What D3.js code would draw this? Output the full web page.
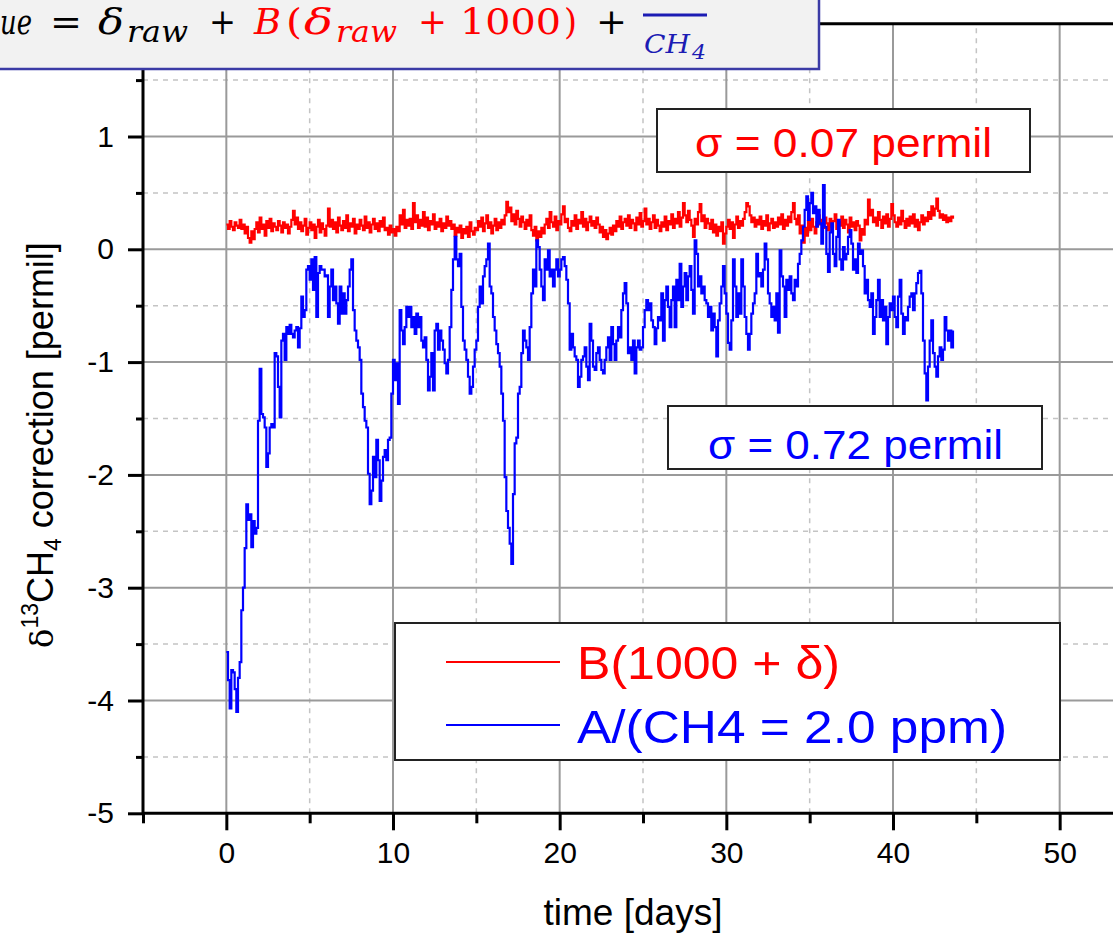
<!DOCTYPE html>
<html><head><meta charset="utf-8">
<script src="https://cdn.jsdelivr.net/npm/d3@7"></script>
<style>body{margin:0;background:#fff}svg{display:block}</style>
</head><body><svg id="c" width="1113" height="933"></svg>
<script>
// ---------- data ----------
const sampleStepDays = 0.1;   // spacing of the samples (days), both series start at day 0
const redValues = [
0.22,0.18,0.25,0.20,0.17,0.24,0.21,0.19,0.26,0.18,
0.22,0.14,0.20,0.10,0.06,0.16,0.09,0.18,0.24,0.15,
0.28,0.18,0.22,0.12,0.25,0.19,0.27,0.16,0.23,0.20,
0.17,0.25,0.21,0.15,0.24,0.19,0.22,0.14,0.20,0.26,
0.34,0.22,0.28,0.18,0.24,0.16,0.21,0.27,0.13,0.19,
0.24,0.17,0.22,0.10,0.20,0.26,0.15,0.23,0.18,0.12,
0.21,0.36,0.20,0.26,0.18,0.24,0.15,0.28,0.21,0.17,
0.25,0.19,0.30,0.16,0.23,0.20,0.27,0.14,0.22,0.18,
0.26,0.21,0.17,0.29,0.19,0.24,0.15,0.22,0.27,0.18,
0.23,0.16,0.25,0.20,0.28,0.17,0.19,0.13,0.21,0.15,
0.18,0.12,0.20,0.16,0.30,0.22,0.35,0.19,0.26,0.21,
0.27,0.18,0.41,0.24,0.30,0.19,0.26,0.21,0.33,0.20,
0.28,0.17,0.25,0.22,0.31,0.18,0.24,0.20,0.27,0.16,
0.23,0.19,0.29,0.21,0.25,0.18,0.22,0.12,0.19,0.15,
0.21,0.10,0.18,0.14,0.20,0.11,0.24,0.16,0.13,0.19,
0.17,0.25,0.20,0.28,0.16,0.23,0.30,0.19,0.24,0.14,
0.21,0.27,0.17,0.24,0.19,0.26,0.22,0.30,0.42,0.33,
0.37,0.25,0.31,0.22,0.34,0.27,0.20,0.29,0.24,0.18,
0.26,0.21,0.30,0.17,0.12,0.20,0.08,0.16,0.11,0.19,
0.14,0.22,0.27,0.19,0.33,0.24,0.20,0.29,0.17,0.25,
0.22,0.31,0.38,0.24,0.27,0.19,0.16,0.25,0.21,0.30,
0.18,0.26,0.23,0.33,0.20,0.27,0.17,0.24,0.29,0.21,
0.25,0.19,0.28,0.22,0.15,0.20,0.11,0.17,0.09,0.14,
0.19,0.13,0.21,0.16,0.25,0.20,0.29,0.18,0.24,0.27,
0.21,0.30,0.19,0.26,0.23,0.17,0.28,0.22,0.32,0.20,
0.25,0.36,0.22,0.27,0.18,0.24,0.30,0.19,0.26,0.21,
0.16,0.24,0.20,0.29,0.17,0.25,0.22,0.31,0.19,0.27,
0.23,0.33,0.20,0.28,0.41,0.30,0.24,0.34,0.26,0.21,
0.11,0.27,0.22,0.33,0.40,0.25,0.30,0.19,0.27,0.23,
0.18,0.26,0.15,0.22,0.12,0.20,0.16,0.24,0.05,0.14,
0.20,0.26,0.18,0.24,0.10,0.22,0.29,0.19,0.25,0.21,
0.27,0.33,0.41,0.38,0.30,0.24,0.28,0.20,0.26,0.22,
0.29,0.18,0.25,0.21,0.30,0.17,0.23,0.27,0.19,0.24,
0.20,0.28,0.22,0.31,0.18,0.26,0.21,0.29,0.24,0.33,
0.41,0.27,0.22,0.30,0.14,0.21,0.06,0.19,0.12,0.25,
0.17,0.27,0.20,0.14,0.24,0.30,0.22,0.26,0.19,0.28,
0.23,0.17,0.27,0.20,0.25,0.31,0.18,0.24,0.21,0.29,
0.19,0.26,0.22,0.15,0.28,0.20,0.24,0.17,0.25,0.21,
0.08,0.18,0.13,0.26,0.22,0.44,0.30,0.35,0.24,0.28,
0.21,0.33,0.26,0.19,0.29,0.23,0.31,0.20,0.27,0.40,
0.30,0.24,0.20,0.28,0.22,0.34,0.25,0.19,0.27,0.21,
0.29,0.23,0.31,0.20,0.26,0.17,0.24,0.30,0.22,0.28,
0.25,0.33,0.27,0.38,0.30,0.36,0.45,0.34,0.28,0.31,
0.26,0.30,0.24,0.28,0.25,0.29,0.27
];
const blueValues = [
-3.57,-3.82,-4.07,-3.73,-3.75,-3.90,-4.10,-3.80,-3.66,-3.20,
-3.00,-2.65,-2.26,-2.40,-2.35,-2.64,-2.41,-2.52,-2.47,-1.52,
-1.06,-1.46,-1.49,-1.58,-1.93,-1.81,-1.58,-1.55,-1.58,-0.92,
-0.95,-1.22,-1.49,-0.81,-0.75,-0.98,-0.69,-0.75,-0.67,-0.75,
-0.78,-0.72,-0.69,-0.87,-0.70,-0.42,-0.60,-0.54,-0.18,-0.15,
-0.27,-0.09,-0.36,-0.07,-0.60,-0.21,-0.15,-0.18,-0.18,-0.24,
-0.23,-0.60,-0.33,-0.18,-0.45,-0.33,-0.48,-0.66,-0.33,-0.57,
-0.39,-0.57,-0.45,-0.33,-0.18,-0.09,-0.54,-0.72,-0.81,-0.87,
-0.98,-1.28,-1.40,-1.52,-1.58,-1.99,-2.26,-2.14,-1.84,-2.02,
-1.69,-1.87,-2.23,-2.05,-1.84,-1.78,-1.87,-1.69,-1.67,-1.28,
-0.98,-1.16,-1.01,-1.37,-0.54,-0.72,-0.84,-0.69,-0.51,-0.60,
-0.51,-0.69,-0.60,-0.75,-0.57,-0.69,-0.60,-0.81,-0.87,-0.78,
-0.98,-1.25,-1.13,-0.92,-1.25,-0.72,-0.66,-0.89,-0.72,-0.81,
-0.89,-1.01,-1.10,-0.98,-0.69,-0.36,-0.09,0.11,-0.09,-0.15,
-0.04,-0.51,-0.81,-0.89,-0.98,-1.13,-1.28,-1.22,-1.04,-0.89,
-0.81,-0.51,-0.33,-0.48,-0.24,-0.15,-0.09,0.05,-0.33,-0.39,
-0.60,-0.72,-0.84,-0.92,-1.04,-1.28,-1.52,-2.02,-2.32,-2.47,
-2.61,-2.79,-2.17,-1.72,-1.67,-1.28,-1.22,-0.92,-0.72,-0.81,
-0.87,-0.98,-0.69,-0.39,-0.18,-0.33,0.08,0.02,-0.18,-0.33,
-0.45,-0.09,-0.18,-0.01,-0.24,-0.18,-0.33,-0.18,-0.09,-0.24,
-0.18,-0.09,-0.07,-0.15,-0.27,-0.48,-0.89,-0.75,-0.87,-0.95,
-0.98,-1.22,-1.13,-0.98,-0.95,-0.87,-1.04,-1.16,-0.66,-0.81,
-1.04,-1.07,-0.92,-0.87,-0.98,-1.07,-1.10,-0.98,-0.87,-0.78,
-0.98,-0.69,-0.84,-0.98,-0.81,-0.69,-0.78,-0.54,-0.39,-0.30,
-0.48,-0.92,-0.87,-0.98,-0.81,-1.10,-0.87,-0.81,-0.89,-0.87,
-0.69,-0.54,-0.45,-0.54,-0.48,-0.63,-0.69,-0.84,-0.70,-0.60,
-0.63,-0.39,-0.81,-0.45,-0.33,-0.51,-0.69,-0.45,-0.33,-0.69,
-0.27,-0.45,-0.13,-0.51,-0.33,-0.21,-0.45,-0.24,-0.15,-0.36,
-0.57,0.08,-0.04,-0.33,-0.24,-0.39,-0.33,-0.45,-0.48,-0.60,
-0.51,-0.72,-0.57,-0.69,-0.95,-0.63,-0.48,-0.33,-0.15,-0.39,
-0.57,-0.83,-0.89,-0.63,-0.09,-0.33,-0.60,-0.39,-0.57,-0.09,
-0.33,-0.60,-0.75,-0.89,-0.75,-0.57,-0.48,-0.39,-0.04,-0.24,
-0.21,-0.33,-0.18,0.05,-0.09,-0.39,-0.48,-0.60,-0.51,-0.63,
-0.39,-0.74,-0.01,-0.24,-0.33,-0.60,-0.27,-0.36,-0.24,-0.39,
-0.45,-0.27,-0.33,-0.13,-0.04,0.08,0.20,0.35,0.47,0.26,
0.41,0.50,0.32,0.38,0.20,0.35,0.23,0.05,0.57,0.20,
-0.04,-0.20,0.15,0.23,-0.04,-0.15,0.11,0.26,-0.09,-0.18,
0.02,-0.09,-0.04,0.11,0.17,0.05,-0.18,-0.09,-0.21,0.05,
-0.04,-0.01,-0.15,-0.39,-0.27,-0.45,-0.51,-0.39,-0.75,-0.60,
-0.45,-0.27,-0.60,-0.45,-0.63,-0.51,-0.84,-0.60,-0.48,-0.54,
-0.42,-0.60,-0.69,-0.42,-0.27,-0.57,-0.75,-0.60,-0.63,-0.51,
-0.42,-0.39,-0.54,-0.39,-0.30,-0.21,-0.19,-0.39,-0.81,-1.10,
-1.34,-1.04,-0.81,-0.63,-0.92,-1.04,-1.13,-0.95,-0.87,-0.98,
-0.89,-0.60,-0.72,-0.81,-0.72,-0.87,-0.72
];
const xMajorTicks = [0, 10, 20, 30, 40, 50];
const xMinorTicks = [-5, 5, 15, 25, 35, 45, 55];
const yMajorTicks = [-5, -4, -3, -2, -1, 0, 1];
const yMinorTicks = [-4.5, -3.5, -2.5, -1.5, -0.5, 0.5, 1.5];
const legendLabels = ["B(1000 + δ)", "A/(CH4 = 2.0 ppm)"];
const sigmaLabels = ["σ = 0.07 permil", "σ = 0.72 permil"];
const seriesColors = ["#ff0000", "#0000ff"];

// ---------- layout ----------
const svg = d3.select("#c");
const x = d3.scaleLinear().domain([-5, 55]).range([143, 1143]);
const y = d3.scaleLinear().domain([-5, 2]).range([813.3, 23.7]);
const X0 = x.range()[0], X1 = x.range()[1], Y0 = y.range()[0], Y1 = y.range()[1];

svg.append("rect").attr("width", 1113).attr("height", 933).attr("fill", "#fff");

// grid
const grid = svg.append("g");
grid.selectAll(".gxm").data(xMinorTicks.filter(v => v > -5)).join("line")
  .attr("x1", d => x(d)).attr("x2", d => x(d)).attr("y1", Y0).attr("y2", Y1)
  .attr("stroke", "#c4c4c4").attr("stroke-width", 1.5).attr("stroke-dasharray", "5,5");
grid.selectAll(".gym").data(yMinorTicks).join("line")
  .attr("x1", X0).attr("x2", X1).attr("y1", d => y(d)).attr("y2", d => y(d))
  .attr("stroke", "#c4c4c4").attr("stroke-width", 1.5).attr("stroke-dasharray", "5,5");
grid.selectAll(".gxM").data(xMajorTicks).join("line")
  .attr("x1", d => x(d)).attr("x2", d => x(d)).attr("y1", Y0).attr("y2", Y1)
  .attr("stroke", "#9a9a9a").attr("stroke-width", 2);
grid.selectAll(".gyM").data(yMajorTicks.filter(v => v > -5)).join("line")
  .attr("x1", X0).attr("x2", X1).attr("y1", d => y(d)).attr("y2", d => y(d))
  .attr("stroke", "#9a9a9a").attr("stroke-width", 2);

// series (dense logger data: drawn as steps)
const line = d3.line().curve(d3.curveStepAfter)
  .x((d, i) => x(i * sampleStepDays)).y(d => y(d));
[redValues, blueValues].forEach((vals, k) => {
  svg.append("path").datum(vals).attr("d", line)
    .attr("fill", "none").attr("stroke", seriesColors[k]).attr("stroke-width", 2.2)
    .attr("stroke-linejoin", "miter");
});

// axes
const font = "'Liberation Sans', Arial, sans-serif";
function styleAxis(g) {
  g.attr("font-size", 30).attr("font-family", font);
  g.select(".domain").remove();
  g.selectAll(".tick line").attr("stroke", "#000").attr("stroke-width", 3);
  g.selectAll(".tick text").attr("fill", "#000").style("font-family", font).style("font-size", "30px");
}
svg.append("g").attr("transform", `translate(0,${Y0})`)
  .call(d3.axisBottom(x).tickValues(xMinorTicks).tickSize(10).tickSizeOuter(0).tickFormat(""))
  .call(styleAxis);
svg.append("g").attr("transform", `translate(0,${Y0})`)
  .call(d3.axisBottom(x).tickValues(xMajorTicks).tickSize(17).tickSizeOuter(0).tickPadding(11).tickFormat(d3.format("d")))
  .call(styleAxis);
svg.append("g").attr("transform", `translate(${X0},0)`)
  .call(d3.axisLeft(y).tickValues(yMinorTicks).tickSize(7).tickSizeOuter(0).tickFormat(""))
  .call(styleAxis);
svg.append("g").attr("transform", `translate(${X0},0)`)
  .call(d3.axisLeft(y).tickValues(yMajorTicks).tickSize(15).tickSizeOuter(0).tickPadding(14).tickFormat(d => String(d)))
  .call(styleAxis);

// frame lines
svg.append("line").attr("x1", X0).attr("x2", X1).attr("y1", Y0).attr("y2", Y0).attr("stroke", "#000").attr("stroke-width", 3);
svg.append("line").attr("x1", X0).attr("x2", X0).attr("y1", Y0 + 1.5).attr("y2", Y1).attr("stroke", "#000").attr("stroke-width", 3);
svg.append("line").attr("x1", X0).attr("x2", X1).attr("y1", Y1).attr("y2", Y1).attr("stroke", "#000").attr("stroke-width", 3);

// axis titles
svg.append("text").attr("x", 633).attr("y", 925).attr("text-anchor", "middle")
  .style("font-family", font).style("font-size", "37px").attr("fill", "#000").text("time [days]");
const yt = svg.append("text").attr("transform", "translate(53,445) rotate(-90)").attr("text-anchor", "middle")
  .style("font-family", font).style("font-size", "36px").attr("fill", "#000");
yt.append("tspan").style("font-family", "'DejaVu Serif', serif").style("font-size", "32px").text("δ");
yt.append("tspan").attr("dy", -15).style("font-size", "23px").text("13");
yt.append("tspan").attr("dy", 15).text("CH");
yt.append("tspan").attr("dy", 8).style("font-size", "23px").text("4");
yt.append("tspan").attr("dy", -8).text(" correction [permil]");

// sigma boxes
const sigmaBoxes = [
  {x0: 657, y0: 109, x1: 1030, y1: 172, tx: 695, tw: 297, base: 157},
  {x0: 668, y0: 406, x1: 1042, y1: 469, tx: 708, tw: 295, base: 459}
];
sigmaBoxes.forEach((b, k) => {
  svg.append("rect").attr("x", b.x0).attr("y", b.y0).attr("width", b.x1 - b.x0).attr("height", b.y1 - b.y0)
    .attr("fill", "#fff").attr("stroke", "#222").attr("stroke-width", 2);
  svg.append("text").attr("x", b.tx).attr("y", b.base)
    .attr("textLength", b.tw).attr("lengthAdjust", "spacingAndGlyphs")
    .style("font-family", font).style("font-size", "41px").attr("fill", seriesColors[k]).text(sigmaLabels[k]);
});

// legend
const lg = svg.append("g");
lg.append("rect").attr("x", 395).attr("y", 623).attr("width", 665).attr("height", 137)
  .attr("fill", "#fff").attr("stroke", "#222").attr("stroke-width", 2);
legendLabels.forEach((lab, k) => {
  const ly = [662, 725][k], tb = [679, 743][k], tw = [263, 430][k];
  lg.append("line").attr("x1", 446).attr("x2", 560).attr("y1", ly).attr("y2", ly)
    .attr("stroke", seriesColors[k]).attr("stroke-width", 2);
  lg.append("text").attr("x", 577).attr("y", tb)
    .attr("textLength", tw).attr("lengthAdjust", "spacingAndGlyphs")
    .style("font-family", font).style("font-size", "47px").attr("fill", seriesColors[k]).text(lab);
});

// formula box (top, partly outside the picture)
const fb = svg.append("g");
fb.append("rect").attr("x", -4).attr("y", -4).attr("width", 823).attr("height", 73)
  .attr("fill", "#f2f2f2").attr("stroke", "#3b3ba6").attr("stroke-width", 2.5);
const serif = "'DejaVu Serif', 'Liberation Serif', serif";
function piece(px, py, w, txt, size, color, italic) {
  fb.append("text").attr("x", px).attr("y", py).attr("fill", color)
    .attr("textLength", w).attr("lengthAdjust", "spacingAndGlyphs")
    .style("font-family", serif).style("font-size", size + "px")
    .style("font-style", italic ? "italic" : "normal").text(txt);
}
const fBase = 34, sBase = 42;
piece(0, fBase, 32, "ue", 36, "#000", true);
piece(50, fBase, 32, "=", 36, "#000", false);
piece(98, fBase, 26, "δ", 36, "#000", true);
piece(127, sBase, 61, "raw", 29, "#000", true);
piece(209, fBase, 27, "+", 36, "#000", false);
piece(254, fBase, 27, "B", 36, "#ff0000", true);
piece(286, fBase, 16, "(", 36, "#ff0000", false);
piece(304, fBase, 29, "δ", 36, "#ff0000", true);
piece(336, sBase, 61, "raw", 29, "#ff0000", true);
piece(418, fBase, 29, "+", 36, "#ff0000", false);
piece(460, fBase, 101, "1000", 36, "#ff0000", false);
piece(564, fBase, 13, ")", 36, "#ff0000", false);
piece(596, fBase, 31, "+", 36, "#000", false);
fb.append("line").attr("x1", 643).attr("x2", 707).attr("y1", 15).attr("y2", 15)
  .attr("stroke", "#1c1cb4").attr("stroke-width", 3);
piece(644, 53, 46, "CH", 26, "#1c1cb4", true);
piece(692, 59, 14, "4", 20, "#1c1cb4", true);
</script></body></html>
